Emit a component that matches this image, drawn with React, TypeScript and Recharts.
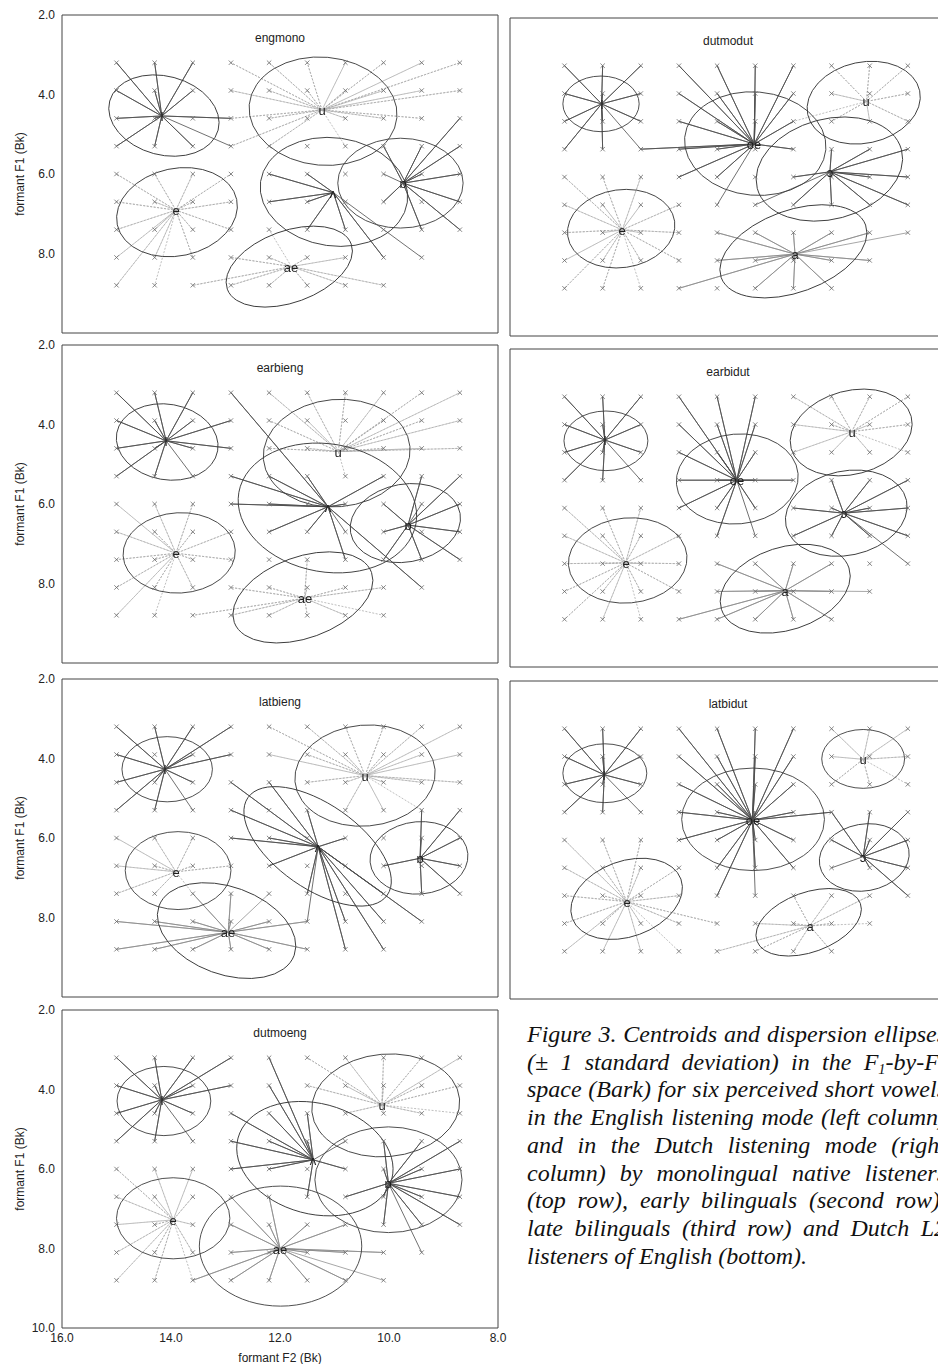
import React from 'react';
import { ScatterChart, Scatter, XAxis, YAxis } from 'recharts';

// stimulus grid (Bark)
const STIM_F2 = [15.0, 14.3, 13.6, 12.9, 12.2, 11.5, 10.8, 10.1, 9.4, 8.7];
const STIM_F1 = [3.2, 3.9, 4.6, 5.3, 6.0, 6.7, 7.4, 8.1, 8.8];
const STIM_ROWS = [9, 9, 9, 9, 9, 9, 9, 9, 8, 7]; // rows present in each F2 column

const F2_TICKS = [9, 10, 11, 12, 13, 14, 15];
const F1_TICKS = [3, 4, 5, 6, 7, 8, 9];
const F1_LABELS = [2, 4, 6, 8];
const F1_LABELS_LAST = [2, 4, 6, 8, 10];
const F2_LABELS = [16, 14, 12, 10, 8];

// centroids: vowel, F2, F1, line style, stimuli joined to it ("col row" into the grid)
const engmonoCentroids = [
  ['I', 14.17, 4.54, 'solid', '00 10 20 01 11 21 02 12 32 03 13 23 33'],
  ['e', 13.91, 6.91, 'light', '04 14 24 34 05 15 25 35 06 16 26 36 07 17 27 08 18'],
  ['u', 11.23, 4.39, 'light', '30 40 50 60 70 80 90 31 41 51 61 71 81 91 32 42 62 72 82 33 43 63'],
  ['ʌ', 11.02, 6.47, 'solid', '44 45 54 55 56 66 77 87'],
  ['ɒ', 9.74, 6.23, 'solid', '73 83 92 93 84 94 95 75 86 96 74'],
  ['ae', 11.79, 8.33, 'light', '28 37 38 47 48 57 58 67 68 78 46'],
];
// ellipses: F2, F1, radius along F2, radius along F1, tilt (deg)
const engmonoEllipses = [
  [14.13, 4.53, 1.03, 0.99, 15],
  [13.89, 6.96, 1.12, 1.1, -12],
  [11.21, 4.42, 1.36, 1.36, 5],
  [11.01, 6.45, 1.36, 1.36, 8],
  [9.79, 6.23, 1.15, 1.13, 0],
  [11.83, 8.33, 1.21, 0.9, -20],
];

const dutmodutCentroids = [
  ['I', 14.32, 4.16, 'solid', '00 10 20 01 11 21 02 12 22 03 13 23'],
  ['oe', 11.52, 5.17, 'solid', '30 40 50 60 31 41 51 61 32 42 52 62 23 33 43 63 34 44 45'],
  ['u', 9.46, 4.1, 'light', '70 80 90 71 81 91 72 82 92 62'],
  ['ɔ', 10.13, 5.87, 'solid', '73 83 93 64 74 84 94 65 75 85 95 55'],
  ['e', 13.94, 7.33, 'light', '04 14 24 05 15 25 35 06 16 26 36 07 17 27 37 08 18 28'],
  ['a', 10.77, 7.94, 'mid', '38 46 47 56 57 58 66 67 68 76 77 78 86 87 96'],
];
const dutmodutEllipses = [
  [14.33, 4.16, 0.7, 0.7, 0],
  [11.5, 5.16, 1.3, 1.3, 5],
  [9.51, 4.13, 1.05, 1.02, -12],
  [10.14, 5.8, 1.37, 1.26, -15],
  [13.96, 7.3, 0.99, 0.98, -8],
  [10.8, 7.87, 1.41, 1.03, -20],
];

const earbiengCentroids = [
  ['I', 14.09, 4.41, 'solid', '00 10 20 01 11 21 31 02 12 22 32 03 13 23'],
  ['e', 13.91, 7.24, 'light', '04 14 24 05 15 25 35 06 16 26 36 07 17 27 08 18'],
  ['u', 10.93, 4.68, 'light', '40 50 60 70 80 90 41 51 71 81 91 42 52 62 72 82 92 63'],
  ['ʌ', 11.12, 6.07, 'solid', '30 33 43 53 73 34 44 64 45 55 66 87 65'],
  ['ɒ', 9.65, 6.53, 'solid', '83 93 94 74 75 95 86 96 76 84'],
  ['ae', 11.55, 8.37, 'light', '28 37 38 47 48 56 57 58 67 68 77 78'],
];
const earbiengEllipses = [
  [14.07, 4.44, 0.94, 0.95, 10],
  [13.85, 7.23, 1.03, 1.01, -3],
  [10.96, 4.72, 1.35, 1.35, -5],
  [11.13, 6.1, 1.65, 1.61, 10],
  [9.7, 6.48, 1.02, 0.98, -10],
  [11.58, 8.35, 1.34, 1.02, -20],
];

const earbidutCentroids = [
  ['I', 14.26, 4.29, 'solid', '00 10 20 01 11 21 02 12 22 03 13 23'],
  ['oe', 11.84, 5.3, 'solid', '30 40 50 31 41 51 32 42 52 33 43 53 63 34 44 54 45 55'],
  ['u', 9.73, 4.08, 'light', '60 70 80 90 61 71 81 91 62 72 82 92'],
  ['ɔ', 9.88, 6.13, 'solid', '73 83 93 64 74 84 94 65 75 85 95 96'],
  ['e', 13.88, 7.38, 'light', '04 14 24 05 15 25 35 06 16 26 36 07 17 27 37 08 18 28'],
  ['a', 10.95, 8.08, 'mid', '38 46 47 48 56 57 58 66 67 68 76 77 78 87'],
];
const earbidutEllipses = [
  [14.24, 4.31, 0.77, 0.75, 0],
  [11.83, 5.27, 1.12, 1.13, -5],
  [9.74, 4.1, 1.14, 1.05, -15],
  [9.83, 6.13, 1.13, 1.06, -12],
  [13.84, 7.32, 1.09, 1.07, -5],
  [10.95, 8.03, 1.23, 1.04, -18],
];

const latbiengCentroids = [
  ['I', 14.11, 4.27, 'solid', '00 10 20 30 01 21 31 02 12 22 03 13 23'],
  ['e', 13.91, 6.85, 'light', '04 14 24 05 15 25 35 06 16 26'],
  ['u', 10.44, 4.43, 'light', '40 50 60 70 80 90 41 51 61 71 81 91 52 62 72 82 92 63 73 83'],
  ['ʌ', 11.3, 6.22, 'solid', '32 33 42 34 44 64 45 53 56 67 68 77 78 87 76 57'],
  ['ɒ', 9.43, 6.51, 'solid', '83 93 94 75 95 86 96 84'],
  ['ae', 12.95, 8.37, 'mid', '07 08 17 18 27 28 26 36 37 38 47 48 57 58 46'],
];
const latbiengEllipses = [
  [14.07, 4.27, 0.83, 0.82, 0],
  [13.87, 6.82, 0.97, 0.98, 0],
  [10.44, 4.43, 1.29, 1.27, -5],
  [11.31, 6.21, 1.56, 1.06, 35],
  [9.45, 6.5, 0.9, 0.91, -5],
  [12.98, 8.33, 1.32, 1.1, 20],
];

const latbidutCentroids = [
  ['I', 14.27, 4.36, 'solid', '00 10 20 01 11 21 02 12 22 03 13 23'],
  ['oe', 11.55, 5.5, 'solid', '30 40 50 60 31 41 51 61 32 42 52 62 33 43 53 63 73 34 44 54 64 45 55 65 46 56'],
  ['u', 9.52, 3.97, 'light', '70 80 90 71 81 91 72 82 92'],
  ['ɔ', 9.52, 6.42, 'solid', '73 83 93 74 84 94 85 95 96 75'],
  ['e', 13.86, 7.55, 'light', '04 14 24 05 15 25 35 06 16 26 36 47 07 17 27 37 08 18 28 38'],
  ['a', 10.5, 8.16, 'light', '48 57 58 66 67 68 76 77 78 86 87'],
];
const latbidutEllipses = [
  [14.26, 4.32, 0.77, 0.74, 0],
  [11.54, 5.48, 1.31, 1.29, 0],
  [9.52, 3.96, 0.76, 0.74, 0],
  [9.5, 6.44, 0.83, 0.84, -10],
  [13.86, 7.48, 1.06, 0.95, -20],
  [10.52, 8.07, 1.01, 0.75, -20],
];

const dutmoengCentroids = [
  ['I', 14.17, 4.26, 'solid', '00 10 20 30 01 11 21 31 02 12 22 03 13 23'],
  ['e', 13.96, 7.28, 'light', '04 14 24 05 15 25 06 16 26 07 17 27 08 18 28'],
  ['u', 10.13, 4.39, 'light', '50 60 70 80 90 51 61 71 81 91 62 72 82 92'],
  ['ʌ', 11.39, 5.77, 'solid', '32 33 34 40 41 42 43 44 52 53 55 64 63'],
  ['ɒ', 10.01, 6.36, 'solid', '73 74 75 76 65 83 93 84 94 85 95 86 96 87'],
  ['ae', 12.0, 8.0, 'mid', '28 35 36 37 38 45 46 47 48 56 57 58 66 67 68 77 78'],
];
const dutmoengEllipses = [
  [14.13, 4.29, 0.86, 0.87, 0],
  [13.96, 7.24, 1.04, 1.02, 0],
  [10.06, 4.4, 1.36, 1.29, -5],
  [11.36, 5.74, 1.46, 1.39, 15],
  [10.01, 6.27, 1.35, 1.33, 0],
  [11.99, 7.94, 1.49, 1.51, 0],
];

const PLOT_W = 436;
const PLOT_H = 318;
const KX = PLOT_W / 8;
const KY = PLOT_H / 8;
const FONT = '"Liberation Sans", Arial, Helvetica, sans-serif';

const PANELS = [
  { title: 'engmono', centroids: engmonoCentroids, ellipses: engmonoEllipses, left: 0, top: 5, kind: 'left' },
  { title: 'dutmodut', centroids: dutmodutCentroids, ellipses: dutmodutEllipses, left: 500, top: 8, kind: 'right' },
  { title: 'earbieng', centroids: earbiengCentroids, ellipses: earbiengEllipses, left: 0, top: 335, kind: 'left' },
  { title: 'earbidut', centroids: earbidutCentroids, ellipses: earbidutEllipses, left: 500, top: 339, kind: 'right' },
  { title: 'latbieng', centroids: latbiengCentroids, ellipses: latbiengEllipses, left: 0, top: 669, kind: 'left' },
  { title: 'latbidut', centroids: latbidutCentroids, ellipses: latbidutEllipses, left: 500, top: 671, kind: 'right' },
  { title: 'dutmoeng', centroids: dutmoengCentroids, ellipses: dutmoengEllipses, left: 0, top: 1000, kind: 'last' },
];

const SPOKE: Record<string, any> = {
  solid: { stroke: '#4d4d4d', strokeWidth: 0.8 },
  mid: { stroke: '#8a8a8a', strokeWidth: 0.75 },
  light: { stroke: '#a9a9a9', strokeWidth: 0.75, strokeDasharray: '2 1.5' },
};

const stimuli = STIM_F2.flatMap((f2, c) =>
  STIM_F1.slice(0, STIM_ROWS[c]).map((f1) => ({ x: f2, y: f1 }))
);

const starPoints = (c: any[]) =>
  String(c[4])
    .split(' ')
    .flatMap((s) => [
      { x: c[1], y: c[2] },
      { x: STIM_F2[Number(s[0])], y: STIM_F1[Number(s[1])] },
    ]);

const NoDot = () => <g />;

const Cross = (p: any) => {
  const d = 2.2;
  return (
    <path
      d={`M${p.cx - d},${p.cy - d}L${p.cx + d},${p.cy + d}M${p.cx - d},${p.cy + d}L${p.cx + d},${p.cy - d}`}
      stroke="#6a6a6a"
      strokeWidth={0.8}
      fill="none"
    />
  );
};

const EllipseShape = (p: any) => (
  <ellipse
    cx={p.cx}
    cy={p.cy}
    rx={p.payload.rx * KX}
    ry={p.payload.ry * KY}
    transform={`rotate(${p.payload.tilt} ${p.cx} ${p.cy})`}
    fill="none"
    stroke="#3c3c3c"
    strokeWidth={0.9}
  />
);

// grayscale filter keeps the small label glyphs free of colour fringes
const VowelLabel = (p: any) => (
  <g style={{ filter: 'grayscale(1)' }}>
    <text
      x={Math.round(p.cx)}
      y={Math.round(p.cy) + 5}
      textAnchor="middle"
      fontSize={13}
      fontFamily={FONT}
      fill="#1e1e1e"
      stroke="none"
    >
      {p.payload.v}
    </text>
  </g>
);

const frameAxis = { type: 'number' as const, mirror: true, interval: 0, tick: false, tickSize: 5, stroke: '#444' };

const Panel = ({ panel }: { panel: any }) => {
  const hasLabels = panel.kind !== 'right';
  const last = panel.kind === 'last';
  const width = hasLabels ? 510 : 456;
  const height = last ? 364 : 338;
  const margin = hasLabels
    ? { top: 10, right: 12, bottom: last ? 0 : 10, left: 0 }
    : { top: 10, right: 10, bottom: 10, left: 10 };
  const plotLeft = hasLabels ? 62 : 10;

  const ellipseData = panel.ellipses.map((e: number[]) => ({ x: e[0], y: e[1], rx: e[2], ry: e[3], tilt: e[4] }));
  const labelData = panel.centroids.map((c: any[]) => ({ x: c[1], y: c[2], v: c[0] }));

  return (
    <div style={{ position: 'absolute', left: panel.left, top: panel.top, width, height }}>
      <ScatterChart width={width} height={height} margin={margin}>
        <XAxis {...frameAxis} xAxisId={0} dataKey="x" domain={[8, 16]} reversed orientation="bottom" ticks={F2_TICKS} />
        <XAxis {...frameAxis} xAxisId="top" dataKey="x" domain={[8, 16]} reversed orientation="top" ticks={F2_TICKS} />
        {last && (
          <XAxis
            xAxisId="lab"
            dataKey="x"
            type="number"
            domain={[8, 16]}
            reversed
            orientation="bottom"
            height={36}
            ticks={F2_LABELS}
            interval={0}
            tickFormatter={(v: number) => v.toFixed(1)}
            tickLine={false}
            axisLine={false}
            tickSize={0}
            tickMargin={5}
            tick={{ fontSize: 12, fill: '#222' }}
            label={{ value: 'formant F2 (Bk)', position: 'insideBottom', offset: 2, fontSize: 12, fill: '#222' }}
          />
        )}
        <YAxis {...frameAxis} yAxisId={0} dataKey="y" domain={[2, 10]} reversed orientation="left" ticks={F1_TICKS} />
        <YAxis {...frameAxis} yAxisId="right" dataKey="y" domain={[2, 10]} reversed orientation="right" ticks={F1_TICKS} />
        {hasLabels && (
          <YAxis
            yAxisId="lab"
            dataKey="y"
            type="number"
            domain={[2, 10]}
            reversed
            orientation="left"
            width={62}
            ticks={last ? F1_LABELS_LAST : F1_LABELS}
            interval={0}
            tickFormatter={(v: number) => v.toFixed(1)}
            tickLine={false}
            axisLine={false}
            tickSize={5}
            tickMargin={2}
            tick={{ fontSize: 12, fill: '#222' }}
            label={{
              value: 'formant F1 (Bk)',
              angle: -90,
              position: 'insideLeft',
              offset: 20,
              fontSize: 12,
              fill: '#222',
              style: { textAnchor: 'middle' },
            }}
          />
        )}
        {/* invisible copies so the frame and label axes get a domain */}
        <Scatter xAxisId="top" yAxisId="right" data={stimuli} shape={NoDot} isAnimationActive={false} />
        {hasLabels && (
          <Scatter xAxisId={last ? 'lab' : 0} yAxisId="lab" data={stimuli} shape={NoDot} isAnimationActive={false} />
        )}
        {panel.centroids.map((c: any[], i: number) => (
          <Scatter
            key={`s${i}`}
            data={starPoints(c)}
            line={SPOKE[c[3]]}
            lineType="joint"
            shape={NoDot}
            isAnimationActive={false}
          />
        ))}
        <Scatter data={ellipseData} shape={EllipseShape} isAnimationActive={false} />
        <Scatter data={stimuli} shape={Cross} isAnimationActive={false} />
        <Scatter data={labelData} shape={VowelLabel} isAnimationActive={false} />
      </ScatterChart>
      <div
        style={{
          position: 'absolute',
          left: plotLeft,
          top: 25,
          width: PLOT_W,
          height: 16,
          lineHeight: '16px',
          textAlign: 'center',
          fontSize: 12,
          color: '#222',
        }}
      >
        {panel.title}
      </div>
    </div>
  );
};

const J: React.CSSProperties = { textAlign: 'justify', textAlignLast: 'justify' };
const SUB: React.CSSProperties = { fontSize: '0.6em', lineHeight: 0, verticalAlign: '-0.25em' };

export default function App() {
  return (
    <div
      style={{
        position: 'absolute',
        left: 0,
        top: 0,
        width: 938,
        height: 1364,
        overflow: 'hidden',
        background: '#fff',
        fontFamily: FONT,
      }}
    >
      {PANELS.map((p) => (
        <Panel key={p.title} panel={p} />
      ))}
      <div
        style={{
          position: 'absolute',
          left: 527,
          top: 1021,
          width: 419,
          fontFamily: '"Liberation Serif", "Times New Roman", serif',
          fontStyle: 'italic',
          fontSize: 24,
          lineHeight: '27.7px',
          color: '#111',
        }}
      >
        <div style={J}>Figure 3. Centroids and dispersion ellipses</div>
        <div style={J}>
          (± 1 standard deviation) in the F<sub style={SUB}>1</sub>-by-F<sub style={SUB}>2</sub>
        </div>
        <div style={J}>space (Bark) for six perceived short vowels</div>
        <div style={J}>in the English listening mode (left column)</div>
        <div style={J}>and in the Dutch listening mode (right</div>
        <div style={J}>column) by monolingual native listeners</div>
        <div style={J}>(top row), early bilinguals (second row),</div>
        <div style={J}>late bilinguals (third row) and Dutch L2</div>
        <div>listeners of English (bottom).</div>
      </div>
    </div>
  );
}
